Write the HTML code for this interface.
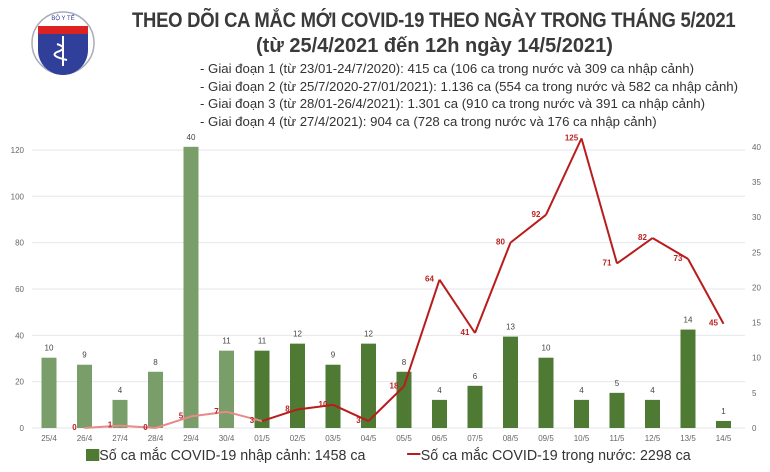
<!DOCTYPE html>
<html><head><meta charset="utf-8"><style>
body{margin:0;background:#fff;width:770px;height:472px;overflow:hidden;font-family:"Liberation Sans",sans-serif}
.t{position:absolute;color:#333;white-space:nowrap}
</style></head><body>
<div style="position:absolute;left:30px;top:10px;width:66px;height:66px">
<svg width="66" height="66" viewBox="0 0 66 66">
<circle cx="33" cy="33" r="31" fill="none" stroke="#aab" stroke-width="1.5"/>
<path d="M8 22 H58 V40 A25 25 0 0 1 8 40 Z" fill="#2f3f9a"/>
<rect x="8" y="16" width="50" height="8" fill="#d22"/>
<path d="M33 26 V56 M27 34 q12 4 0 8 q-8 4 10 8" stroke="#fff" stroke-width="2" fill="none"/>
<text x="33" y="10" font-size="6" text-anchor="middle" fill="#2f3f9a">BỘ Y TẾ</text>
</svg></div>
<div class="t" style="left:132px;top:9px;font-size:21px;font-weight:bold;color:#3a3a3a;letter-spacing:-0.3px;transform:scaleX(0.88);transform-origin:left">THEO DÕI CA MẮC MỚI COVID-19 THEO NGÀY TRONG THÁNG 5/2021</div>
<div class="t" style="left:256px;top:35px;font-size:20px;font-weight:bold;color:#3a3a3a">(từ 25/4/2021 đến 12h ngày 14/5/2021)</div>
<div style="position:absolute;left:200px;top:60px;font-size:13.2px;line-height:17.5px;color:#333;white-space:nowrap">
<div>- Giai đoạn 1 (từ 23/01-24/7/2020): 415 ca (106 ca trong nước và 309 ca nhập cảnh)</div>
<div>- Giai đoạn 2 (từ 25/7/2020-27/01/2021): 1.136 ca (554 ca trong nước và 582 ca nhập cảnh)</div>
<div>- Giai đoạn 3 (từ 28/01-26/4/2021): 1.301 ca (910 ca trong nước và 391 ca nhập cảnh)</div>
<div>- Giai đoạn 4 (từ 27/4/2021): 904 ca (728 ca trong nước và 176 ca nhập cảnh)</div>
</div>
<svg id="chart" width="770" height="472" style="position:absolute;left:0;top:0"></svg>
<div style="position:absolute;left:86px;top:447px;font-size:15px;color:#333;white-space:nowrap;transform:scaleX(0.95);transform-origin:left">
<span><span style="display:inline-block;width:14px;height:12px;background:#4e7a34;vertical-align:-1px"></span>Số ca mắc COVID-19 nhập cảnh: 1458 ca</span>
<span style="margin-left:40px"><span style="display:inline-block;width:14px;height:2px;background:#b81c1c;vertical-align:5px"></span>Số ca mắc COVID-19 trong nước: 2298 ca</span>
</div>
<script>
const categories=["25/4","26/4","27/4","28/4","29/4","30/4","01/5","02/5","03/5","04/5","05/5","06/5","07/5","08/5","09/5","10/5","11/5","12/5","13/5","14/5"];
const importedCases=[10,9,4,8,40,11,11,12,9,12,8,4,6,13,10,4,5,4,14,1];
const domesticCases=[null,0,1,0,5,7,3,8,10,3,18,64,41,80,92,125,71,82,73,45];
const leftTicks=[0,20,40,60,80,100,120];
const rightTicks=[0,5,10,15,20,25,30,35,40];
const NS="http://www.w3.org/2000/svg";
const svg=document.getElementById('chart');
const y0=428;
const yL=v=>y0-v*2.317;
const yR=v=>y0-v*7.03;
const xC=i=>49+i*35.5;
function el(t,a){const e=document.createElementNS(NS,t);for(const k in a)e.setAttribute(k,a[k]);svg.appendChild(e);return e;}
function txt(x,y,s,size,fill,anchor,weight){const e=el('text',{x:x,y:y,'font-size':size,fill:fill,'text-anchor':anchor||'middle','font-family':'Liberation Sans, sans-serif','font-weight':weight||'normal'});e.textContent=s;return e;}
leftTicks.forEach(v=>{
const g=el('line',{x1:32,x2:745,y1:yL(v),y2:yL(v),stroke:'#e6e6ee','stroke-width':1});


const t=txt(24,yL(v)+3,String(v),8,'#666','end');


});
rightTicks.forEach(v=>{
const t=txt(752,yR(v)+3,String(v),8,'#666','start');


});
categories.forEach((c,i)=>{
const x=xC(i),v=importedCases[i];
const b=el('rect',{x:x-7.5,y:yR(v),width:15,height:y0-yR(v),fill:i<6?'#7a9e6a':'#4e7a34'});


const l=txt(x,yR(v)-7,String(v),8,'#444');


const xl=txt(x,441,c,8,'#666');


});
for(let i=1;i<domesticCases.length-1;i++){
if(domesticCases[i]==null||domesticCases[i+1]==null)continue;
const s=el('line',{x1:xC(i),y1:yL(domesticCases[i]),x2:xC(i+1),y2:yL(domesticCases[i+1]),stroke:i<6?'#e88a8a':'#b81c1c','stroke-width':2});


}
domesticCases.forEach((v,i)=>{
if(v==null)return;
const t=txt(xC(i)-10,yL(v)+2,String(v),8,'#b22','middle','bold');


});
</script>
</body></html>
